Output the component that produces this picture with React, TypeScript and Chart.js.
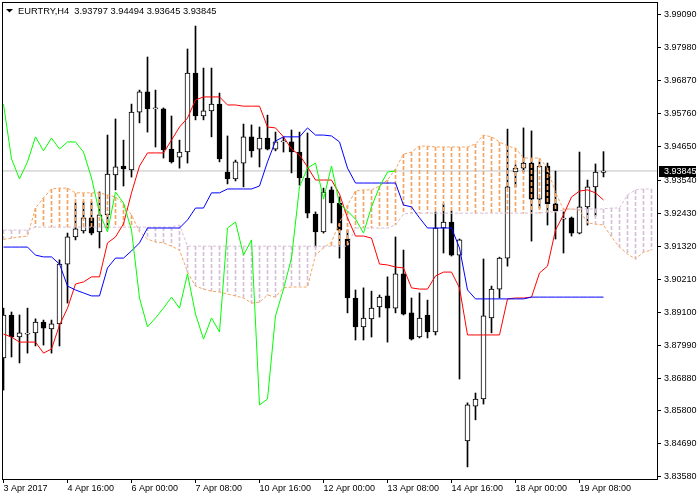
import React, { useEffect, useRef } from 'react';
import { Chart, registerables } from 'chart.js';

Chart.register(...registerables);

const FONT = "'Liberation Sans', Arial, sans-serif";

const symbol = 'EURTRY,H4';

// Candles (H4 bars, bar 0 = 3 Apr 2017 08:00)
const opens = [
  3.8757, 3.8901, 3.8827, 3.8837, 3.8841, 3.8877, 3.8854, 3.8871, 3.9072, 3.9163,
  3.9183, 3.9227, 3.9180, 3.9237, 3.9371, 3.9401, 3.9388, 3.9582, 3.9650, 3.9593,
  3.9593, 3.9458, 3.9431, 3.9448, 3.9713, 3.9569, 3.9586, 3.9609, 3.9381, 3.9358,
  3.9411, 3.9499, 3.9458, 3.9495, 3.9458, 3.9482, 3.9482, 3.9448, 3.9361, 3.9240,
  3.9180, 3.9321, 3.9277, 3.9156, 3.8958, 3.8861, 3.8888, 3.8928, 3.8965, 3.8924,
  3.9039, 3.8908, 3.8827, 3.8901, 3.8844, 3.9193, 3.9213, 3.9102, 3.8478, 3.8595,
  3.8619, 3.8891, 3.8988, 3.9092, 3.9381, 3.9394, 3.9411, 3.9290, 3.9401, 3.9274,
  3.9223, 3.9227, 3.9176, 3.9264, 3.9331, 3.93797,
];
const highs = [
  3.8924, 3.8911, 3.8901, 3.8924, 3.8888, 3.8884, 3.8884, 3.9086, 3.9176, 3.9277,
  3.9280, 3.9280, 3.9314, 3.9505, 3.9559, 3.9488, 3.9609, 3.9656, 3.9767, 3.9656,
  3.9596, 3.9569, 3.9488, 3.9794, 3.9871, 3.9730, 3.9730, 3.9646, 3.9502, 3.9421,
  3.9542, 3.9539, 3.9532, 3.9572, 3.9515, 3.9499, 3.9522, 3.9515, 3.9512, 3.9247,
  3.9327, 3.9331, 3.9297, 3.9186, 3.8985, 3.8992, 3.8981, 3.8968, 3.9029, 3.9163,
  3.9119, 3.8958, 3.8975, 3.8951, 3.9247, 3.9274, 3.9250, 3.9156, 3.8606, 3.8639,
  3.9089, 3.8998, 3.9095, 3.9525, 3.9405, 3.9529, 3.9519, 3.9415, 3.9411, 3.9384,
  3.9247, 3.9230, 3.9448, 3.9354, 3.9408, 3.94494,
];
const lows = [
  3.8649, 3.8760, 3.8740, 3.8773, 3.8797, 3.8800, 3.8773, 3.8797, 3.8941, 3.9153,
  3.9176, 3.9170, 3.9126, 3.9193, 3.9321, 3.9334, 3.9364, 3.9546, 3.9515, 3.9465,
  3.9428, 3.9411, 3.9394, 3.9411, 3.9556, 3.9556, 3.9499, 3.9415, 3.9341, 3.9351,
  3.9331, 3.9431, 3.9398, 3.9455, 3.9452, 3.9448, 3.9378, 3.9337, 3.9227, 3.9129,
  3.9176, 3.9210, 3.9092, 3.8908, 3.8817, 3.8817, 3.8827, 3.8894, 3.8810, 3.8908,
  3.8901, 3.8817, 3.8824, 3.8824, 3.8834, 3.9109, 3.9099, 3.8686, 3.8391, 3.8549,
  3.8602, 3.8841, 3.8958, 3.9065, 3.9331, 3.9381, 3.9149, 3.9260, 3.9203, 3.9156,
  3.9109, 3.9166, 3.9173, 3.9203, 3.9233, 3.93645,
];
const closes = [
  3.8901, 3.8827, 3.8841, 3.8837, 3.8877, 3.8857, 3.8871, 3.9072, 3.9163, 3.9190,
  3.9227, 3.9176, 3.9237, 3.9374, 3.9398, 3.9391, 3.9582, 3.9650, 3.9593, 3.9593,
  3.9455, 3.9415, 3.9448, 3.9713, 3.9569, 3.9586, 3.9609, 3.9425, 3.9358, 3.9415,
  3.9499, 3.9452, 3.9495, 3.9458, 3.9482, 3.9482, 3.9448, 3.9361, 3.9243, 3.9180,
  3.9314, 3.9277, 3.9186, 3.8958, 3.8861, 3.8891, 3.8924, 3.8961, 3.8924, 3.9039,
  3.8904, 3.8820, 3.8891, 3.8844, 3.9193, 3.9213, 3.9102, 3.9153, 3.8599, 3.8619,
  3.8898, 3.8988, 3.9092, 3.9331, 3.9394, 3.9411, 3.9290, 3.9401, 3.9274, 3.9250,
  3.9223, 3.9176, 3.9264, 3.9331, 3.9381, 3.93845,
];

// Ichimoku lines
const tenkan = [
  3.8837, 3.8827, 3.8810, 3.8810, 3.8810, 3.8773, 3.8787, 3.8867, 3.8924, 3.9005,
  3.9012, 3.9029, 3.9029, 3.9143, 3.9163, 3.9207, 3.9311, 3.9401, 3.9445, 3.9445,
  3.9445, 3.9488, 3.9532, 3.9562, 3.9623, 3.9633, 3.9633, 3.9633, 3.9606, 3.9606,
  3.9602, 3.9602, 3.9602, 3.9532, 3.9529, 3.9499, 3.9458, 3.9438, 3.9398, 3.9354,
  3.9354, 3.9354, 3.9307, 3.9227, 3.9166, 3.9166, 3.9159, 3.9072, 3.9069, 3.9062,
  3.9059, 3.8992, 3.8988, 3.8988, 3.9032, 3.9045, 3.9045, 3.8992, 3.8834, 3.8834,
  3.8834, 3.8834, 3.8834, 3.8955, 3.8958, 3.8958, 3.8961, 3.9042, 3.9065, 3.9186,
  3.9237, 3.9297, 3.9317, 3.9321, 3.9311, 3.9287,
];
const kijun = [
  3.9129, 3.9129, 3.9129, 3.9129, 3.9102, 3.9096, 3.9096, 3.9072, 3.8998, 3.8985,
  3.8975, 3.8965, 3.8965, 3.9059, 3.9092, 3.9092, 3.9116, 3.9143, 3.9193, 3.9193,
  3.9193, 3.9193, 3.9193, 3.9220, 3.9260, 3.9260, 3.9311, 3.9311, 3.9324, 3.9324,
  3.9324, 3.9324, 3.9334, 3.9415, 3.9485, 3.9499, 3.9499, 3.9499, 3.9529, 3.9505,
  3.9505, 3.9502, 3.9482, 3.9394, 3.9344, 3.9344, 3.9344, 3.9344, 3.9344, 3.9344,
  3.9270, 3.9264, 3.9227, 3.9193, 3.9193, 3.9193, 3.9193, 3.9126, 3.8985, 3.8955,
  3.8955, 3.8955, 3.8955, 3.8955, 3.8955, 3.8955, 3.8961, 3.8961, 3.8961, 3.8961,
  3.8961, 3.8961, 3.8961, 3.8961, 3.8961, 3.8961,
];
const spanA = [
  3.9155, 3.9159, 3.9163, 3.9166, 3.9260, 3.9294, 3.9324, 3.9327, 3.9327, 3.9311,
  3.9311, 3.9311, 3.9311, 3.9304, 3.9297, 3.9274, 3.9237, 3.9180, 3.9156, 3.9146,
  3.9143, 3.9132, 3.9119, 3.9045, 3.8998, 3.8988, 3.8981, 3.8978, 3.8971, 3.8965,
  3.8958, 3.8941, 3.8944, 3.8968, 3.8961, 3.8992, 3.8995, 3.8995, 3.8995, 3.9102,
  3.9126, 3.9146, 3.9210, 3.9270, 3.9317, 3.9321, 3.9321, 3.9334, 3.9354, 3.9391,
  3.9441, 3.9448, 3.9468, 3.9468, 3.9465, 3.9465, 3.9465, 3.9465, 3.9465, 3.9475,
  3.9505, 3.9499, 3.9482, 3.9468, 3.9461, 3.9428, 3.9428, 3.9428, 3.9394, 3.9311,
  3.9257, 3.9257, 3.9253, 3.9210, 3.9206, 3.9203, 3.9163, 3.9129, 3.9106, 3.9089,
  3.9112, 3.9119,
];
const spanB = [
  3.9186, 3.9186, 3.9186, 3.9186, 3.9196, 3.9196, 3.9196, 3.9196, 3.9196, 3.9196,
  3.9196, 3.9196, 3.9196, 3.9196, 3.9196, 3.9196, 3.9196, 3.9196, 3.9196, 3.9196,
  3.9196, 3.9196, 3.9203, 3.9132, 3.9132, 3.9132, 3.9132, 3.9132, 3.9132, 3.9132,
  3.9132, 3.9132, 3.9132, 3.9132, 3.9132, 3.9132, 3.9132, 3.9132, 3.9132, 3.9132,
  3.9132, 3.9132, 3.9132, 3.9132, 3.9193, 3.9193, 3.9193, 3.9193, 3.9193, 3.9203,
  3.9240, 3.9243, 3.9243, 3.9243, 3.9243, 3.9243, 3.9243, 3.9243, 3.9243, 3.9243,
  3.9243, 3.9243, 3.9243, 3.9243, 3.9243, 3.9243, 3.9243, 3.9243, 3.9247, 3.9247,
  3.9253, 3.9257, 3.9257, 3.9257, 3.9257, 3.9257, 3.9260, 3.9260, 3.9304, 3.9321,
  3.9324, 3.9324,
];
const chikouShift = 26;

const xTickBars = [0, 8, 16, 24, 32, 40, 48, 56, 64, 72];
const xTickLabels = [
  '3 Apr 2017', '4 Apr 16:00', '6 Apr 00:00', '7 Apr 08:00', '10 Apr 16:00',
  '12 Apr 00:00', '13 Apr 08:00', '14 Apr 16:00', '18 Apr 00:00', '19 Apr 08:00',
];
const yTicks = [
  3.9909, 3.9798, 3.9687, 3.9576, 3.9465, 3.9354, 3.9243, 3.9132,
  3.9021, 3.891, 3.8799, 3.8688, 3.858, 3.8469, 3.8358,
];

// view window
const X_MIN = -0.1875;
const X_MAX = 81.6875;
const Y_MIN = 3.83504;
const Y_MAX = 3.99517;

const SANDY = '#f4a460';
const THISTLE = '#d8bfd8';

const fmt = (v: number) => v.toFixed(5);

// vertical dashed fill (4 px on, 2 px off), started at the top of each hatch line
function dashPattern(color: string, offsetY: number): CanvasPattern | string {
  const c = document.createElement('canvas');
  c.width = 1;
  c.height = 6;
  const g = c.getContext('2d');
  if (!g) return color;
  g.fillStyle = color;
  g.fillRect(0, 0, 1, 4);
  const p = g.createPattern(c, 'repeat');
  if (!p) return color;
  try {
    p.setTransform(new DOMMatrix([1, 0, 0, 1, 0, offsetY]));
  } catch (e) {
    /* ignore */
  }
  return p;
}

export default function App() {
  const ref = useRef<HTMLCanvasElement>(null);

  useEffect(() => {
    const canvas = ref.current;
    if (!canvas) return;
    const last = closes.length - 1;
    const idx = closes.map((_, i) => i);

    const wickData = idx.map((i) => ({ x: i, y: [lows[i], highs[i]] }));
    const bodyData = idx.map((i) => ({ x: i, y: [opens[i], closes[i]] }));
    const bodyColors = idx.map((i) => (closes[i] >= opens[i] ? '#ffffff' : '#000000'));

    const hatchData = spanA.map((a, i) => ({ x: i, y: [a, spanB[i]] }));
    const hatchColor = (ctx: any) => {
      const i = ctx.dataIndex;
      if (i === undefined || i === null || !ctx.chart.scales || !ctx.chart.scales.y) return SANDY;
      const ys = ctx.chart.scales.y;
      const top = Math.round(Math.min(ys.getPixelForValue(spanA[i]), ys.getPixelForValue(spanB[i])));
      return dashPattern(spanA[i] >= spanB[i] ? SANDY : THISTLE, top);
    };

    const lineDs = (label: string, data: any[], color: string, order: number, dash?: number[]) => ({
      type: 'line' as const,
      label,
      data,
      borderColor: color,
      backgroundColor: color,
      borderWidth: 1,
      pointRadius: 0,
      tension: 0,
      fill: false,
      spanGaps: false,
      borderDash: dash || [],
      order,
    });

    const framePlugin = {
      id: 'mtFrame',
      afterDraw(chart: any) {
        const { ctx, chartArea } = chart;
        const { left, top, right, bottom } = chartArea;
        ctx.save();
        ctx.strokeStyle = '#000000';
        ctx.lineWidth = 1;
        ctx.strokeRect(left + 0.5, top + 0.5, right - left, bottom - top);

        // title
        ctx.fillStyle = '#000000';
        ctx.beginPath();
        ctx.moveTo(6, 9);
        ctx.lineTo(13, 9);
        ctx.lineTo(9.5, 12.5);
        ctx.closePath();
        ctx.fill();
        ctx.font = `9.3px ${FONT}`;
        ctx.textBaseline = 'middle';
        ctx.textAlign = 'left';
        const title = `${symbol}  ${fmt(opens[last])} ${fmt(highs[last])} ${fmt(lows[last])} ${fmt(closes[last])}`;
        ctx.fillText(title, 18, 11);

        // current price tag
        const y = chart.scales.y.getPixelForValue(closes[last]);
        ctx.font = `9px ${FONT}`;
        ctx.fillStyle = '#000000';
        ctx.fillRect(right + 2, Math.round(y) - 5, 37, 11);
        ctx.fillStyle = '#ffffff';
        ctx.fillText(fmt(closes[last]), right + 7, Math.round(y) + 0.5);
        ctx.restore();
      },
    };

    const noPad = (s: any) => {
      s.paddingTop = 0;
      s.paddingBottom = 0;
      s.paddingLeft = 0;
      s.paddingRight = 0;
    };

    const chart = new Chart(canvas, {
      type: 'bar',
      data: {
        datasets: [
          lineDs('price', [{ x: X_MIN - 1, y: closes[last] }, { x: X_MAX + 1, y: closes[last] }], '#c0c0c0', 20),
          {
            type: 'bar',
            label: 'wick',
            data: wickData as any,
            backgroundColor: '#000000',
            borderWidth: 0,
            barThickness: 1,
            grouped: false,
            order: 19,
          } as any,
          {
            type: 'bar',
            label: 'body',
            data: bodyData as any,
            backgroundColor: bodyColors,
            borderColor: '#000000',
            borderWidth: 1,
            borderSkipped: false,
            barThickness: 5,
            minBarLength: 1,
            grouped: false,
            order: 18,
          } as any,
          {
            type: 'bar',
            label: 'cloud',
            data: hatchData as any,
            backgroundColor: hatchColor,
            borderWidth: 0,
            barThickness: 1,
            grouped: false,
            order: 17,
          } as any,
          lineDs('spanA', spanA.map((v, i) => ({ x: i, y: v })), SANDY, 15, [3, 2]),
          lineDs('spanB', spanB.map((v, i) => ({ x: i, y: v })), THISTLE, 14, [3, 2]),
          lineDs('tenkan', tenkan.map((v, i) => ({ x: i, y: v })), '#ff0000', 13),
          lineDs('kijun', kijun.map((v, i) => ({ x: i, y: v })), '#0000ff', 12),
          lineDs(
            'chikou',
            closes.slice(chikouShift).map((v, j) => ({ x: j, y: v })),
            '#00ff00',
            11,
          ),
        ] as any,
      },
      options: {
        animation: false,
        responsive: false,
        events: [],
        layout: { padding: { left: 2, top: 2, right: 0, bottom: 0 } },
        plugins: {
          legend: { display: false },
          tooltip: { enabled: false },
          title: { display: false },
        },
        scales: {
          x: {
            type: 'linear',
            position: 'bottom',
            min: X_MIN,
            max: X_MAX,
            offset: false,
            grid: {
              display: true,
              drawOnChartArea: false,
              drawTicks: true,
              tickLength: 4,
              color: '#000000',
              offset: false,
            },
            border: { display: false },
            ticks: {
              autoSkip: false,
              maxRotation: 0,
              minRotation: 0,
              align: 'start',
              padding: 0,
              color: '#000000',
              font: { family: FONT, size: 9 },
              callback: (v: any) => {
                const k = xTickBars.indexOf(Number(v));
                return k >= 0 ? xTickLabels[k] : '';
              },
            },
            afterBuildTicks: (s: any) => {
              s.ticks = xTickBars.map((v) => ({ value: v }));
            },
            afterFit: (s: any) => {
              s.height = 21;
              noPad(s);
            },
          },
          y: {
            type: 'linear',
            position: 'right',
            min: Y_MIN,
            max: Y_MAX,
            beginAtZero: false,
            grid: {
              display: true,
              drawOnChartArea: false,
              drawTicks: true,
              tickLength: 4,
              color: '#000000',
            },
            border: { display: false },
            ticks: {
              autoSkip: false,
              padding: 3,
              color: '#000000',
              font: { family: FONT, size: 9 },
              callback: (v: any) => Number(v).toFixed(5),
            },
            afterBuildTicks: (s: any) => {
              s.ticks = yTicks.map((v) => ({ value: v }));
            },
            afterFit: (s: any) => {
              s.width = 43;
              noPad(s);
            },
          },
        },
      } as any,
      plugins: [framePlugin],
    });

    return () => {
      chart.destroy();
    };
  }, []);

  return (
    <div style={{ position: 'absolute', left: 0, top: 0, width: 700, height: 500, background: '#ffffff' }}>
      <canvas ref={ref} width={700} height={500} style={{ display: 'block' }} />
    </div>
  );
}
